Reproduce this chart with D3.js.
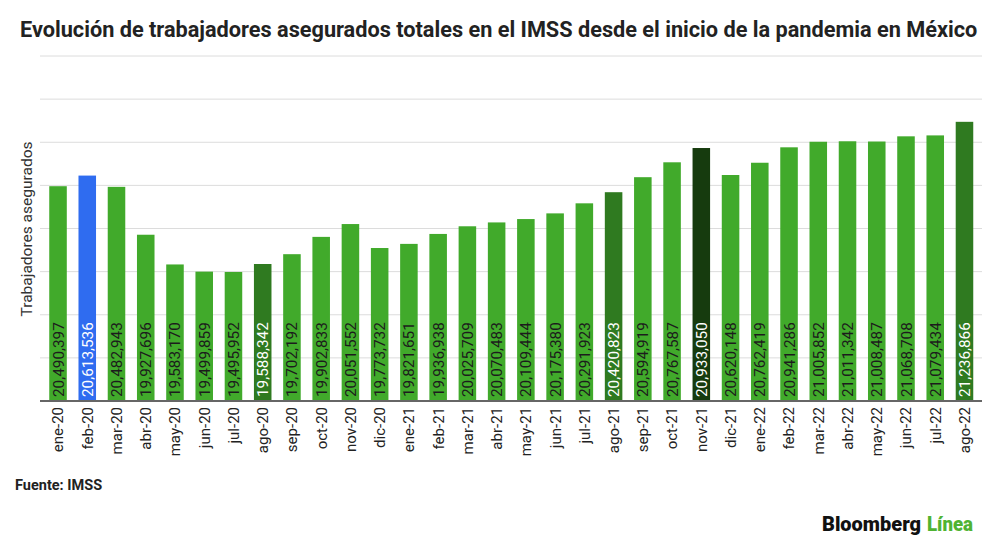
<!DOCTYPE html>
<html>
<head>
<meta charset="utf-8">
<script src="https://cdn.jsdelivr.net/npm/d3@7"></script>
<style>
  body { margin: 0; background: #fff; }
  text { font-family: Roboto, "Noto Sans", sans-serif; }
</style>
</head>
<body>
<svg id="chart" width="1000" height="548"></svg>
<script>
// months from the start of the pandemic
const months = ['ene-20', 'feb-20', 'mar-20', 'abr-20', 'may-20', 'jun-20', 'jul-20', 'ago-20',
  'sep-20', 'oct-20', 'nov-20', 'dic-20', 'ene-21', 'feb-21', 'mar-21', 'abr-21', 'may-21',
  'jun-21', 'jul-21', 'ago-21', 'sep-21', 'oct-21', 'nov-21', 'dic-21', 'ene-22', 'feb-22',
  'mar-22', 'abr-22', 'may-22', 'jun-22', 'jul-22', 'ago-22'];

const asegurados = [20490397, 20613536, 20482943, 19927696, 19583170, 19499859, 19495952, 19588342,
  19702192, 19902833, 20051552, 19773732, 19821651, 19936938, 20025709, 20070483, 20109444,
  20175380, 20291923, 20420823, 20594919, 20767587, 20933050, 20620148, 20762419, 20941286,
  21005852, 21011342, 21008487, 21068708, 21079434, 21236866];

const yTicks = [18000000, 18500000, 19000000, 19500000, 20000000, 20500000, 21000000, 21500000, 22000000];

const title = 'Evolución de trabajadores asegurados totales en el IMSS desde el inicio de la pandemia en México';
const yLabel = 'Trabajadores asegurados';
const source = 'Fuente: IMSS';

// highlighted months (the rest use the default green)
const colors = {
  'feb-20': '#2f6cf0',
  'ago-20': '#2f7a20',
  'ago-21': '#2f7a20',
  'nov-21': '#163b0e',
  'ago-22': '#2f7a20'
};
const defaultColor = '#41aa2b';
const fmt = d3.format(',');

const svg = d3.select('#chart');

const x = d3.scaleBand()
  .domain(months)
  .range([43.4, 979.1])
  .paddingInner(0.4)
  .paddingOuter(0.2);

const y = d3.scaleLinear()
  .domain([18000000, 22000000])
  .range([401, 56]);

// title
svg.append('text')
  .attr('x', 20)
  .attr('y', 37)
  .attr('font-size', 21.7)
  .attr('font-weight', 700)
  .attr('fill', '#222')
  .text(title);

// gridlines
svg.append('g')
  .selectAll('line')
  .data(yTicks.slice(1))
  .join('line')
  .attr('x1', 40)
  .attr('x2', 982)
  .attr('y1', d => y(d))
  .attr('y2', d => y(d))
  .attr('stroke', '#dcdcdc')
  .attr('stroke-width', 1);

// y axis label
svg.append('text')
  .attr('transform', 'translate(32,229) rotate(-90)')
  .attr('text-anchor', 'middle')
  .attr('font-size', 15.5)
  .attr('fill', '#333')
  .text(yLabel);

// bars
svg.append('g')
  .selectAll('rect')
  .data(asegurados)
  .join('rect')
  .attr('x', (d, i) => x(months[i]))
  .attr('width', x.bandwidth())
  .attr('y', d => y(d))
  .attr('height', d => y(18000000) - y(d))
  .attr('fill', (d, i) => colors[months[i]] || defaultColor);

// value labels inside bars
svg.append('g')
  .selectAll('text')
  .data(asegurados)
  .join('text')
  .attr('transform', (d, i) => `translate(${x(months[i]) + x.bandwidth() / 2},397) rotate(-90)`)
  .attr('dy', '0.36em')
  .attr('font-size', 15.3)
  .attr('fill', (d, i) => colors[months[i]] ? '#fff' : '#1c1c1c')
  .text(d => fmt(d));

// baseline
svg.append('line')
  .attr('x1', 40)
  .attr('x2', 982)
  .attr('y1', y(18000000))
  .attr('y2', y(18000000))
  .attr('stroke', '#666')
  .attr('stroke-width', 2);

// x axis labels
svg.append('g')
  .selectAll('text')
  .data(months)
  .join('text')
  .attr('transform', d => `translate(${x(d) + x.bandwidth() / 2},407) rotate(-90)`)
  .attr('dy', '0.36em')
  .attr('text-anchor', 'end')
  .attr('font-size', 15)
  .attr('fill', '#222')
  .text(d => d);

// source
svg.append('text')
  .attr('x', 15)
  .attr('y', 490)
  .attr('font-size', 14.5)
  .attr('font-weight', 700)
  .attr('fill', '#222')
  .text(source);

// logo
svg.append('text')
  .attr('x', 822)
  .attr('y', 531)
  .attr('font-size', 21)
  .attr('font-weight', 900)
  .attr('fill', '#111')
  .attr('textLength', 99)
  .attr('lengthAdjust', 'spacingAndGlyphs')
  .text('Bloomberg');
svg.append('text')
  .attr('x', 927)
  .attr('y', 531)
  .attr('font-size', 21)
  .attr('font-weight', 900)
  .attr('fill', '#4fb332')
  .attr('textLength', 46)
  .attr('lengthAdjust', 'spacingAndGlyphs')
  .text('Línea');
</script>
</body>
</html>
